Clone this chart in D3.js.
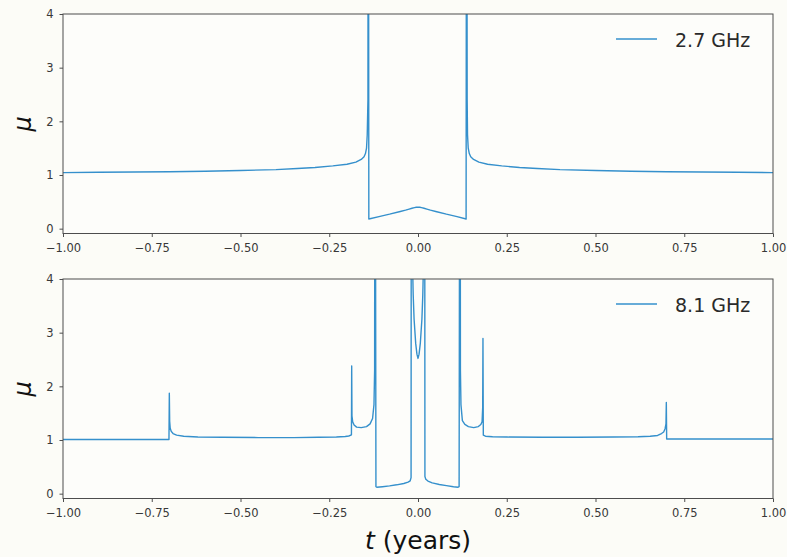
<!DOCTYPE html>
<html><head><meta charset="utf-8">
<script src="https://cdn.jsdelivr.net/npm/d3@7"></script>
<style>
html,body{margin:0;padding:0;background:#fcfcf7;}
svg{display:block;}
</style></head><body>
<svg id="chart" width="787" height="557"></svg>
<script>
// Axis ticks
const tTicks = [-1, -0.75, -0.5, -0.25, 0, 0.25, 0.5, 0.75, 1];
const muTicks = [0, 1, 2, 3, 4];
const bands = ["2.7 GHz", "8.1 GHz"];

// Magnification at 2.7 GHz versus time (years)
const t27 = [
  -1.00, -0.90, -0.80, -0.70, -0.60, -0.50, -0.40, -0.34, -0.29, -0.24,
  -0.20, -0.175, -0.16, -0.152, -0.148, -0.145, -0.143, -0.141, -0.140, -0.1385,
  -0.11, -0.08, -0.05, -0.035, -0.025, -0.017, -0.010, -0.005, 0.0,
  0.005, 0.010, 0.017, 0.025, 0.035, 0.05, 0.08, 0.11, 0.1355,
  0.137, 0.1385, 0.1395, 0.1415, 0.1445, 0.1485, 0.1565, 0.1715, 0.196, 0.236,
  0.286, 0.336, 0.40, 0.50, 0.60, 0.70, 0.80, 0.90, 1.00
];
const mu27 = [
  1.045, 1.05, 1.055, 1.06, 1.07, 1.085, 1.10, 1.12, 1.14, 1.17,
  1.20, 1.24, 1.29, 1.34, 1.40, 1.50, 1.75, 2.4, 12, 0.18,
  0.225, 0.27, 0.32, 0.345, 0.365, 0.38, 0.392, 0.398, 0.40,
  0.398, 0.392, 0.38, 0.365, 0.345, 0.32, 0.27, 0.225, 0.18,
  12, 2.4, 1.75, 1.5, 1.4, 1.34, 1.29, 1.24, 1.20, 1.17,
  1.14, 1.12, 1.10, 1.085, 1.07, 1.06, 1.055, 1.05, 1.045
];

// Magnification at 8.1 GHz versus time (years)
const t81 = [
  -1.00, -0.80, -0.7015, -0.7005, -0.6995, -0.698, -0.695, -0.69, -0.68, -0.66,
  -0.62, -0.55, -0.45, -0.35, -0.28, -0.23, -0.205, -0.195, -0.189, -0.1875,
  -0.1868, -0.186, -0.184, -0.18, -0.173, -0.16, -0.145, -0.135, -0.128, -0.124,
  -0.1222, -0.1212, -0.1185, -0.116, -0.10, -0.08, -0.06, -0.04, -0.028, -0.022,
  -0.0195, -0.0185, -0.0155, -0.0135, -0.011, -0.0065, -0.003, 0.0, 0.003, 0.0065,
  0.011, 0.0135, 0.0155, 0.0185, 0.0195, 0.022, 0.028, 0.04, 0.06, 0.08,
  0.10, 0.113, 0.1158, 0.1185, 0.1195, 0.121, 0.125, 0.132, 0.142, 0.157,
  0.170, 0.177, 0.1805, 0.1822, 0.1830, 0.184, 0.19, 0.21, 0.25, 0.35,
  0.45, 0.55, 0.62, 0.654, 0.675, 0.686, 0.692, 0.696, 0.6985, 0.6995,
  0.7005, 0.75, 1.00
];
const mu81 = [
  1.01, 1.01, 1.01, 1.87, 1.35, 1.22, 1.16, 1.12, 1.09, 1.07,
  1.055, 1.05, 1.045, 1.045, 1.05, 1.055, 1.065, 1.075, 1.09, 1.10,
  2.38, 1.45, 1.34, 1.28, 1.24, 1.23, 1.25, 1.30, 1.40, 1.66,
  2.3, 12, 0.13, 0.12, 0.13, 0.145, 0.165, 0.19, 0.215, 0.24,
  0.30, 12, 4.3, 3.7, 3.25, 2.8, 2.6, 2.52, 2.6, 2.8,
  3.25, 3.7, 4.3, 12, 0.32, 0.27, 0.235, 0.20, 0.17, 0.15,
  0.13, 0.12, 0.13, 12, 2.3, 1.66, 1.36, 1.29, 1.25, 1.23,
  1.25, 1.29, 1.34, 1.6, 2.89, 1.09, 1.07, 1.06, 1.055, 1.05,
  1.05, 1.055, 1.06, 1.07, 1.085, 1.12, 1.15, 1.21, 1.30, 1.70,
  1.02, 1.02, 1.02
];

const W = 787, H = 557;
const left = 63, right = 773;
const lineColor = "#3590cc";
const axisColor = "#4d4d4d";
const textColor = "#383838";
const font = "'DejaVu Sans', sans-serif";

const svg = d3.select("#chart");
svg.append("rect").attr("width", W).attr("height", H).attr("fill", "#fcfcf7");

const panels = [
  { top: 14, bottom: 233.5, t: t27, mu: mu27, label: bands[0], legendY: 39 },
  { top: 279, bottom: 498.5, t: t81, mu: mu81, label: bands[1], legendY: 304 }
];

const x = d3.scaleLinear().domain([-1, 1]).range([left, right]);

panels.forEach((p, i) => {
  const y = d3.scaleLinear().domain([-0.09, 4]).range([p.bottom, p.top]);
  const g = svg.append("g");

  // plot area
  g.append("rect")
    .attr("x", left).attr("y", p.top)
    .attr("width", right - left).attr("height", p.bottom - p.top)
    .attr("fill", "#fdfdfa");

  const clipId = "clip" + i;
  svg.append("clipPath").attr("id", clipId)
    .append("rect")
    .attr("x", left).attr("y", p.top)
    .attr("width", right - left).attr("height", p.bottom - p.top);

  const pts = p.t.map((tv, k) => [tv, p.mu[k]]);
  const line = d3.line().x(d => x(d[0])).y(d => y(d[1]));
  g.append("path")
    .datum(pts)
    .attr("clip-path", `url(#${clipId})`)
    .attr("d", line)
    .attr("fill", "none")
    .attr("stroke", lineColor)
    .attr("stroke-width", 1.4)
    .attr("stroke-linejoin", "round");

  // axes
  const xAxis = d3.axisBottom(x).tickValues(tTicks)
    .tickFormat(d3.format(".2f")).tickSize(3.5).tickPadding(6.5);
  const yAxis = d3.axisLeft(y).tickValues(muTicks)
    .tickFormat(d3.format("d")).tickSize(3.5).tickPadding(6);

  const gx = g.append("g").attr("transform", `translate(0,${p.bottom})`).call(xAxis);
  const gy = g.append("g").attr("transform", `translate(${left},0)`).call(yAxis);
  [gx, gy].forEach(a => {
    a.select(".domain").remove();
    a.selectAll(".tick line").attr("stroke", axisColor).attr("stroke-width", 1);
    a.selectAll(".tick text")
      .attr("fill", textColor)
      .style("font-family", font)
      .style("font-size", "11.5px");
  });

  // frame
  g.append("rect")
    .attr("x", left).attr("y", p.top)
    .attr("width", right - left).attr("height", p.bottom - p.top)
    .attr("fill", "none")
    .attr("stroke", axisColor)
    .attr("stroke-width", 1);

  // y label
  g.append("text")
    .attr("transform", `translate(31,${(p.top + p.bottom) / 2}) rotate(-90)`)
    .attr("text-anchor", "middle")
    .style("font-family", font)
    .style("font-style", "italic")
    .style("font-size", "24px")
    .attr("fill", "#111")
    .text("μ");

  // legend
  g.append("line")
    .attr("x1", 616).attr("x2", 657)
    .attr("y1", p.legendY).attr("y2", p.legendY)
    .attr("stroke", lineColor).attr("stroke-width", 1.4);
  g.append("text")
    .attr("x", 675).attr("y", p.legendY + 8)
    .style("font-family", font)
    .style("font-size", "19px")
    .attr("fill", "#2a2a2a")
    .text(p.label);
});

// x label
const xl = svg.append("text")
  .attr("x", (left + right) / 2).attr("y", 549)
  .attr("text-anchor", "middle")
  .style("font-family", font)
  .style("font-size", "25px")
  .attr("fill", "#111");
xl.append("tspan").style("font-style", "italic").text("t");
xl.append("tspan").text(" (years)");
</script>
</body></html>
